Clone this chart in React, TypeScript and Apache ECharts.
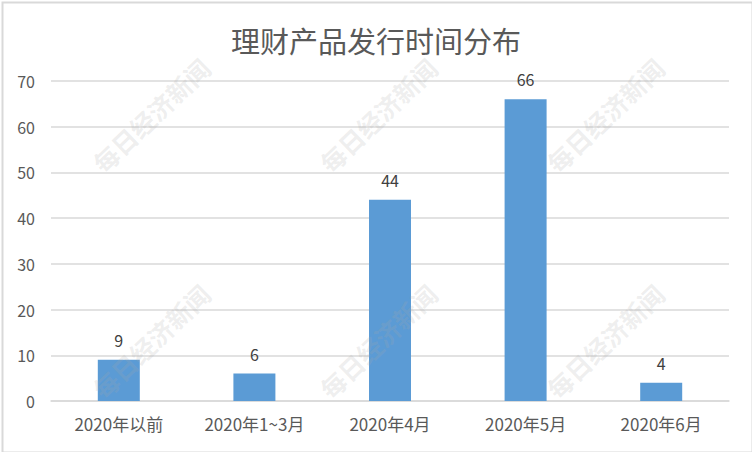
import React, { useEffect, useRef } from "react";
import * as echarts from "echarts";

const categories = ["2020年以前", "2020年1~3月", "2020年4月", "2020年5月", "2020年6月"];
const counts = [9, 6, 44, 66, 4];
const titleText = "理财产品发行时间分布";
const watermarkText = "每日经济新闻";
const watermarkSpots = [
  [151, 115],
  [378, 115],
  [605, 115],
  [151, 341],
  [378, 341],
  [605, 341],
];

export default function App() {
  const ref = useRef<HTMLDivElement>(null);
  useEffect(() => {
    document.body.style.margin = "0";
    const chart = echarts.init(ref.current!, null, { renderer: "svg" });
    const textColor = "#595959";
    const font = "'Noto Sans CJK SC', 'Noto Sans', sans-serif";
    chart.setOption({
      animation: false,
      backgroundColor: "#ffffff",
      title: {
        text: titleText,
        left: "center",
        top: 20,
        textStyle: { color: textColor, fontSize: 29, fontWeight: "normal", fontFamily: font },
      },
      grid: { left: 51, right: 23, top: 81, bottom: 51, outerBoundsMode: "none", containLabel: false },
      xAxis: {
        type: "category",
        data: categories,
        axisLine: { show: true, lineStyle: { color: "#d9d9d9", width: 1.5 } },
        axisTick: { show: false },
        axisLabel: { color: textColor, fontSize: 17, fontFamily: font, margin: 14, interval: 0 },
      },
      yAxis: {
        type: "value",
        min: 0,
        max: 70,
        interval: 10,
        axisLine: { show: false },
        axisTick: { show: false },
        axisLabel: { color: textColor, fontSize: 16, fontFamily: font, margin: 16 },
        splitLine: { lineStyle: { color: "#d9d9d9", width: 1.5 } },
      },
      series: [
        {
          type: "bar",
          data: counts,
          barWidth: 42,
          itemStyle: { color: "#5b9bd5" },
          label: {
            show: true,
            position: "top",
            distance: 12,
            color: "#404040",
            fontSize: 16,
            fontFamily: font,
          },
        },
      ],
      graphic: [
        ...watermarkSpots.map(([x, y]) => ({
          type: "text",
          x,
          y,
          rotation: Math.PI / 4.1,
          z: 100,
          silent: true,
          style: {
            text: watermarkText,
            fill: "rgba(170,170,170,0.2)",
            font: "bold 25px 'Noto Sans CJK SC', sans-serif",
            align: "center",
            verticalAlign: "middle",
          },
        })),
        {
          type: "rect",
          left: 0,
          top: 0,
          z: 101,
          silent: true,
          shape: { x: 1, y: 1, width: 750, height: 450 },
          style: { fill: "none", stroke: "#d9d9d9", lineWidth: 2 },
        },
      ],
    });
    return () => chart.dispose();
  }, []);
  return <div ref={ref} style={{ width: 752, height: 452 }} />;
}
